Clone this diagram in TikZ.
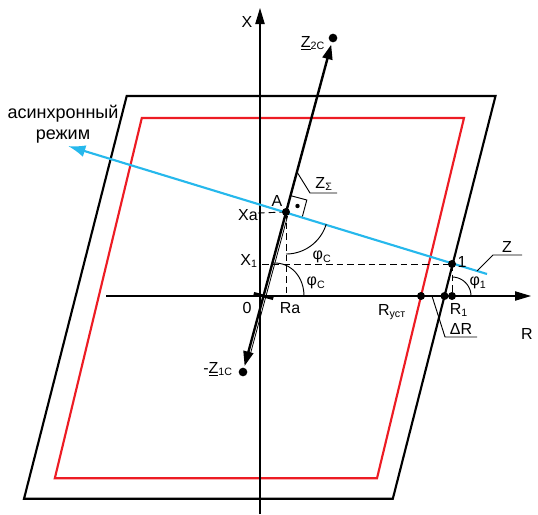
\documentclass[tikz,border=0pt]{standalone}
\usepackage{fontspec}
\setmainfont{Liberation Sans}
\usetikzlibrary{arrows.meta}
\definecolor{myred}{RGB}{237,28,36}
\definecolor{mycyan}{RGB}{38,184,236}
\begin{document}
\begin{tikzpicture}[x=0.75pt,y=-0.75pt,
  lbl/.style={inner sep=0pt,font=\fontsize{12}{14}\selectfont},
  cyr/.style={inner sep=0pt,font=\fontsize{13.5}{16}\selectfont,align=center},
  axisarr/.style={line width=0.8pt,-{Triangle[length=12pt,width=7pt]}},
  framebox/.style={line width=1.6pt,line join=miter},
  dashln/.style={line width=0.7pt,dash pattern=on 5pt off 3pt},
  leader/.style={line width=0.7pt},
  vec/.style={line width=1.8pt,-{Triangle[length=11pt,width=7.5pt]}},
  bigdot/.style={circle,fill=black,inner sep=0pt,minimum size=6.5pt},
  smalldot/.style={circle,fill=black,inner sep=0pt,minimum size=6pt}
]
\useasboundingbox (0,0) rectangle (538,514);
% frames
\draw[framebox] (126.7,96) -- (495.5,96) -- (392.8,498.8) -- (24,498.8) -- cycle;
\draw[framebox,myred] (141.8,118) -- (464,118) -- (377,478.3) -- (54.8,478.3) -- cycle;
% axes
\coordinate (xb) at (260,514);
\coordinate (xt) at (260,8);
\coordinate (rl) at (106,296);
\coordinate (rr) at (531,296);
\draw[axisarr] (xb) -- (xt);
\draw[axisarr] (rl) -- (rr);
% main points
\coordinate (o) at (263.5,296);
\coordinate (cz2) at (333,38);
\coordinate (cz1) at (243,372);
\coordinate (az2) at (331.2,44.6);
\coordinate (az1) at (244.6,366);
\coordinate (ra) at (286,296);
\coordinate (x1s) at (262,264);
\coordinate (xas) at (258,213);
\coordinate (cA) at (286,212);
\coordinate (cp1) at (452,264);
\coordinate (cr1) at (452,296);
% dashed lines
\draw[dashln] (x1s) -- (cp1);
\draw[dashln] (xas) -- (cA);
\draw[dashln] (cA) -- (ra);
\draw[dashln] (cp1) -- (cr1);
% impedance line
\draw[vec] (o) -- (az2);
\draw[vec] (o) -- (az1);
\coordinate (t1) at (250.1,355);
\coordinate (t2) at (287.6,216);
\draw[line width=0.6pt] (t1) -- (t2);
\coordinate (k1) at (253.8,293.4);
\coordinate (k2) at (273.2,298.6);
\draw[line width=2.2pt] (k1) -- (k2);
% blue line
\coordinate (bl) at (68,146);
\coordinate (br) at (487,274);
\draw[mycyan,line width=1.6pt,-{Latex[length=13pt,width=9pt]}] (br) -- (bl);
% dots
\node[bigdot] (z2) at (cz2) {};
\node[bigdot] (z1) at (cz1) {};
\node[smalldot] (A) at (cA) {};
\node[smalldot] (p1) at (cp1) {};
\node[smalldot] (rust) at (421,296) {};
\node[smalldot] (redge) at (444.5,296) {};
\node[smalldot] (r1) at (cr1) {};
% right angle square at A
\draw[line width=0.7pt] (A.center) -- ++(4.4,-16.4) -- ++(16.4,4.4) -- ++(-4.4,16.4);
\fill (297.5,206) circle (2.2);
% arcs
\draw[line width=0.7pt] plot[domain=-90:-17,samples=40] ({286+42*cos(\x)},{212-42*sin(\x)});
\draw[line width=0.7pt] (272.6,263) .. controls (292,262) and (304,278) .. (304,296);
\draw[line width=0.7pt] plot[domain=90:0,samples=30] ({452+19*cos(\x)},{296-19*sin(\x)});
% leaders
\coordinate (ls1) at (297,172);
\coordinate (ls2) at (310,193);
\coordinate (ls3) at (337,193);
\draw[leader] (ls1) -- (ls2) -- (ls3);
\coordinate (lz1) at (477,271);
\coordinate (lz2) at (493,255);
\coordinate (lz3) at (522,255);
\draw[leader] (lz1) -- (lz2) -- (lz3);
\coordinate (ld1) at (432,296);
\coordinate (ld2) at (445,337);
\coordinate (ld3) at (477,337);
\draw[leader] (ld1) -- (ld2) -- (ld3);
% labels
\node[lbl] (lX) at (247,22) {X};
\node[lbl] (lR) at (527,334) {R};
\node[lbl] (lZ2) at (313,43) {\underline{Z}\textsubscript{2C}};
\node[lbl] (lZ1) at (218,369) {-\underline{Z}\textsubscript{1C}};
\node[lbl] (lA) at (277,201) {A};
\node[lbl,anchor=east] (lXa) at (258,215) {Xa};
\node[lbl] (lX1) at (249,261) {X\textsubscript{1}};
\node[lbl] (l0) at (247,308) {0};
\node[lbl] (lRa) at (290,308) {Ra};
\node[lbl] (lphi1) at (322,257) {φ\textsubscript{C}};
\node[lbl] (lphi2) at (316,283) {φ\textsubscript{C}};
\node[lbl,anchor=south] (lZs) at (324,191) {Z\textsubscript{Σ}};
\node[lbl] (l1) at (462,262) {1};
\node[lbl,anchor=south] (lZ) at (507,253) {Z};
\node[lbl] (lphi1r) at (478,283) {φ\textsubscript{1}};
\node[lbl] (lRust) at (392,312) {R\textsubscript{уст}};
\node[lbl] (lR1) at (459,310) {R\textsubscript{1}};
\node[lbl,anchor=south] (ldR) at (461,335) {ΔR};
\node[cyr] (lasync) at (63,124) {асинхронный\\режим};
\end{tikzpicture}
\end{document}
